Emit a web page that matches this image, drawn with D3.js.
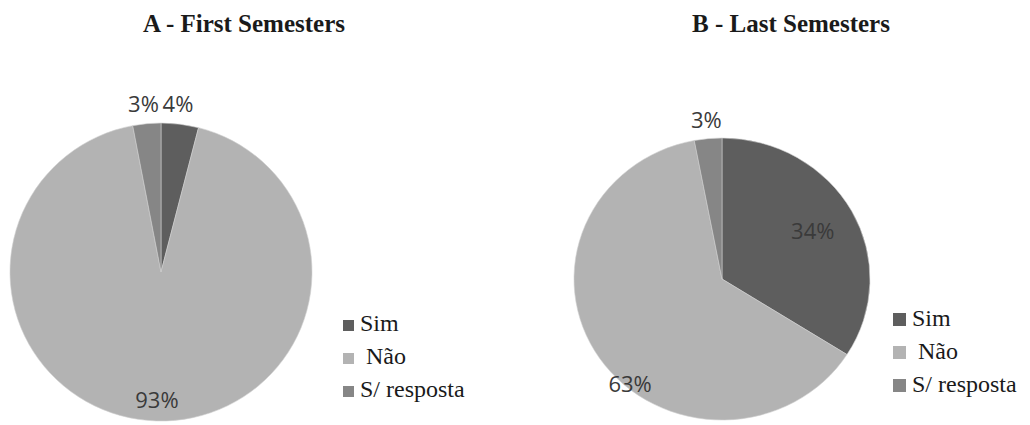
<!DOCTYPE html>
<html>
<head>
<meta charset="utf-8">
<script src="https://cdn.jsdelivr.net/npm/d3@7"></script>
<style>
  body { margin: 0; background: #fff; }
  svg { display: block; }
</style>
</head>
<body>
<svg width="1030" height="425"></svg>
<script>
// data
var categories = ["Sim", "Não", "S/ resposta"];
var legendLabels = ["Sim", " Não", "S/ resposta"];
var firstValues = [4, 93, 3];
var lastValues = [34, 63, 3];
var titles = ["A - First Semesters", "B - Last Semesters"];

var colors = d3.scaleOrdinal().domain(categories).range(["#5e5e5e", "#b3b3b3", "#868686"]);
var serifFont = "Liberation Serif, Tinos, DejaVu Serif, Times New Roman, Times, serif";

// per panel layout (pie a bit squashed like the picture)
var panels = [
	{values: firstValues, title: titles[0], cx: 161, cy: 272, rx: 151, ry: 149, tx: 244,
	 lx: 343, ly: 331, lsize: 11, lab: [[1.13, -1.5], [0.86, 0], [1.13, -0.5]]},
	{values: lastValues, title: titles[1], cx: 722, cy: 279, rx: 148, ry: 141, tx: 791,
	 lx: 893, ly: 326, lsize: 13, lab: [[0.7, 0], [0.97, -16], [1.13, 0]]}
];

var svg = d3.select("svg");
var pie = d3.pie().sort(null).value(function(d) { return d; });

panels.forEach(function(p) {
	var g = svg.append("g");

	g.append("text")
		.attr("x", p.tx).attr("y", 32)
		.attr("text-anchor", "middle")
		.attr("font-family", serifFont)
		.attr("font-weight", "bold")
		.attr("font-size", 25)
		.attr("fill", "#1a1a1a")
		.text(p.title);

	var arcs = pie(p.values);
	var arc = d3.arc().innerRadius(0).outerRadius(p.rx);

	g.append("g")
		.attr("transform", "translate(" + p.cx + "," + p.cy + ") scale(1," + (p.ry / p.rx) + ")")
		.selectAll("path")
		.data(arcs)
		.enter().append("path")
		.attr("d", arc)
		.style("fill", function(d, i) { return colors(categories[i]); })
		.style("stroke", "#d0d0d0")
		.style("stroke-width", 0.6);

	// percentage labels
	g.selectAll(".lbl")
		.data(arcs)
		.enter().append("text")
		.attr("x", function(d, i) {
			var a = (d.startAngle + d.endAngle) / 2 + p.lab[i][1] * Math.PI / 180;
			return p.cx + p.lab[i][0] * p.rx * Math.sin(a);
		})
		.attr("y", function(d, i) {
			var a = (d.startAngle + d.endAngle) / 2 + p.lab[i][1] * Math.PI / 180;
			return p.cy - p.lab[i][0] * p.ry * Math.cos(a);
		})
		.attr("dy", "0.36em")
		.attr("text-anchor", "middle")
		.style("font-family", "'Open Sans', sans-serif")
		.style("font-size", "22px")
		.style("fill", "#3a3a3a")
		.text(function(d) { return d.value + "%"; });

	// legend
	var leg = g.selectAll(".leg")
		.data(categories)
		.enter().append("g")
		.attr("transform", function(d, i) { return "translate(" + p.lx + "," + (p.ly + i * 33) + ")"; });
	leg.append("rect")
		.attr("x", 0).attr("y", -p.lsize)
		.attr("width", p.lsize).attr("height", p.lsize)
		.style("fill", function(d) { return colors(d); });
	leg.append("text")
		.attr("x", p.lsize + 6).attr("y", 0)
		.attr("font-family", serifFont)
		.attr("font-size", 24)
		.attr("fill", "#1a1a1a")
		.style("white-space", "pre")
		.text(function(d, i) { return legendLabels[i]; });
});
</script>
</body>
</html>
